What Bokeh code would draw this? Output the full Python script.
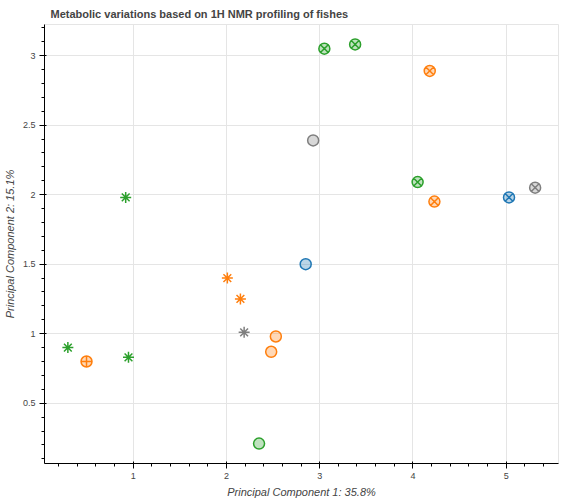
from bokeh.plotting import figure
from bokeh.models import ColumnDataSource
from bokeh.transform import factor_cmap, factor_mark
from bokeh.embed import file_html
from bokeh.resources import INLINE

# PCA scores
pc1 = [0.30, 0.92, 0.95, 0.50, 2.01, 2.15, 2.19, 2.48, 2.53, 2.35, 2.85, 2.93,
       3.05, 3.38, 4.18, 4.23, 4.05, 5.03, 5.31]
pc2 = [0.90, 1.98, 0.83, 0.80, 1.40, 1.25, 1.01, 0.87, 0.98, 0.21, 1.50, 2.39,
       3.05, 3.08, 2.89, 1.95, 2.09, 1.98, 2.05]
species = ["C", "C", "C", "B", "B", "B", "D", "B", "B", "C", "A", "D",
           "C", "C", "B", "B", "C", "A", "D"]
tissue = ["asterisk", "asterisk", "asterisk", "circle_cross", "asterisk", "asterisk",
          "asterisk", "circle", "circle", "circle", "circle", "circle",
          "circle_x", "circle_x", "circle_x", "circle_x", "circle_x", "circle_x", "circle_x"]

species_factors = ["A", "B", "C", "D"]
species_colors = ["#1f77b4", "#ff7f0e", "#2ca02c", "#7f7f7f"]
marker_factors = ["circle", "asterisk", "circle_cross", "circle_x"]

source = ColumnDataSource(dict(x=pc1, y=pc2, species=species, tissue=tissue))

FONT = "Liberation Sans"
p = figure(width=563, height=500, output_backend="svg", toolbar_location=None,
           title="Metabolic variations based on 1H NMR profiling of fishes")
p.title.text_font = FONT
p.title.text_font_size = "11px"
p.title.offset = 6
p.xaxis.axis_label = "Principal Component 1: 35.8%"
p.yaxis.axis_label = "Principal Component 2: 15.1%"
for ax in (p.xaxis, p.yaxis):
    ax.axis_label_text_font = FONT
    ax.axis_label_text_font_size = "11px"
    ax.axis_label_standoff = 4
    ax.major_label_text_font = FONT
    ax.major_label_text_font_size = "9px"
    ax.major_label_standoff = 4
    ax.major_tick_out = 5
    ax.minor_tick_out = 3

p.scatter("x", "y", source=source, size=11, line_width=1.5, fill_alpha=0.3,
          color=factor_cmap("species", species_colors, species_factors),
          marker=factor_mark("tissue", marker_factors, marker_factors))

open("out.html", "w").write(file_html(p, INLINE))
